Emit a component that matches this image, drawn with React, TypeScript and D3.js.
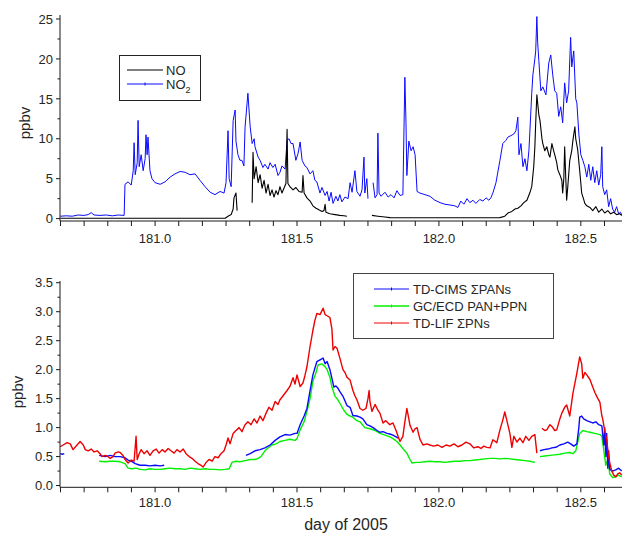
import React from 'react';
import * as d3 from 'd3';

type Pt = [number, number | null];

// ---- Top panel: NO and NO2 (ppbv) vs day of 2005 ----
const NO_SERIES: Pt[] = [
  [180.666, 0.05], [180.806, 0.05], [180.982, 0.05], [181.158, 0.05], [181.247, 0.05],
  [181.257, 0.3], [181.268, 0.5], [181.275, 1.2], [181.278, 2.6], [181.285, 3.2], [181.289, 1.0],
  [181.3, null],
  [181.342, 2], [181.345, 8.3], [181.349, 5], [181.356, 6.5], [181.363, 4.5], [181.370, 5.5],
  [181.377, 3.8], [181.384, 4.8], [181.391, 3.2], [181.398, 4.3], [181.405, 2.9], [181.412, 3.6],
  [181.419, 2.7], [181.426, 3.5], [181.433, 3.0], [181.440, 4.0], [181.447, 3.2], [181.454, 3.8],
  [181.461, 4.4], [181.465, 11.2], [181.468, 4.4], [181.475, 4.0], [181.486, 3.6], [181.496, 3.9],
  [181.507, 3.4], [181.518, 3.3], [181.521, 5.4], [181.525, 3.2], [181.535, 2.6], [181.546, 2.2],
  [181.556, 1.6], [181.567, 1.3], [181.577, 1.1], [181.588, 0.9], [181.595, 1.0], [181.599, 1.8],
  [181.602, 0.8], [181.616, 0.6], [181.634, 0.5], [181.651, 0.4], [181.665, 0.35], [181.676, 0.3],
  [181.72, null],
  [181.764, 0.4], [181.785, 0.3], [181.810, 0.2], [181.827, 0.12], [181.933, 0.1], [182.074, 0.1],
  [182.215, 0.12], [182.232, 0.3], [182.243, 0.7], [182.257, 0.9], [182.268, 1.2], [182.278, 1.3],
  [182.289, 1.6], [182.299, 2.0], [182.310, 2.3], [182.320, 3.2], [182.327, 4.0], [182.334, 6.5],
  [182.338, 9], [182.341, 12], [182.345, 15.5], [182.352, 13], [182.356, 12.3], [182.363, 10],
  [182.366, 9.4], [182.373, 8.5], [182.380, 9], [182.387, 8], [182.391, 7.7], [182.398, 9.4],
  [182.405, 8.4], [182.408, 8.0], [182.415, 7.0], [182.419, 6.1], [182.426, 5.5], [182.433, 4.8],
  [182.436, 3.2], [182.440, 5], [182.443, 9], [182.447, 5], [182.450, 2.3], [182.454, 4],
  [182.461, 7.3], [182.468, 8.5], [182.472, 9.8], [182.479, 11.5], [182.482, 10], [182.489, 8.6],
  [182.496, 6], [182.503, 3.2], [182.510, 2.4], [182.514, 1.9], [182.521, 1.6], [182.532, 1.4],
  [182.542, 1.0], [182.553, 1.5], [182.563, 0.8], [182.574, 1.2], [182.584, 0.7], [182.595, 1.0],
  [182.605, 0.6], [182.616, 0.8], [182.626, 0.5], [182.637, 0.6], [182.644, 0.4],
];

const NO2_SERIES: Pt[] = [
  [180.666, 0.3], [180.687, 0.35], [180.708, 0.3], [180.729, 0.45], [180.750, 0.4], [180.764, 0.5],
  [180.775, 0.75], [180.785, 0.45], [180.806, 0.4], [180.828, 0.45], [180.849, 0.35], [180.870, 0.45],
  [180.891, 0.4], [180.894, 4.3], [180.905, 4.6], [180.916, 4.2], [180.923, 6], [180.926, 9.5],
  [180.930, 5.5], [180.937, 7], [180.940, 12.3], [180.944, 6.5], [180.951, 8], [180.958, 6],
  [180.965, 7.5], [180.968, 10.5], [180.972, 8], [180.975, 10.2], [180.982, 6], [180.989, 5],
  [181.000, 4.5], [181.018, 4.3], [181.035, 4.6], [181.053, 5.2], [181.070, 5.6], [181.088, 5.9],
  [181.106, 5.8], [181.123, 5.5], [181.141, 5.6], [181.158, 4.8], [181.176, 4.0], [181.194, 3.3],
  [181.211, 3.0], [181.229, 3.4], [181.243, 3.2], [181.250, 4.5], [181.257, 11], [181.261, 5],
  [181.268, 4], [181.275, 12.3], [181.282, 13.6], [181.285, 9.7], [181.292, 8], [181.299, 7.3],
  [181.306, 7.3], [181.313, 6.6], [181.317, 11.5], [181.320, 12.7], [181.327, 15.7], [181.335, 11.5],
  [181.342, 9.4], [181.349, 10], [181.352, 9], [181.363, 7.7], [181.370, 7.3], [181.380, 6.4],
  [181.387, 6.8], [181.398, 6.2], [181.405, 7], [181.415, 6.4], [181.423, 6.8], [181.433, 5.4],
  [181.440, 5.8], [181.447, 6.6], [181.458, 6.2], [181.465, 9.8], [181.472, 10], [181.479, 9.4],
  [181.486, 9.4], [181.496, 7.3], [181.504, 8.2], [181.511, 9.6], [181.518, 7.3], [181.528, 6.6],
  [181.535, 6.4], [181.546, 5.6], [181.556, 6], [181.563, 4.8], [181.570, 4.6], [181.581, 3.2],
  [181.588, 3.9], [181.599, 2.9], [181.606, 3.4], [181.613, 2.2], [181.620, 3.3], [181.627, 1.9],
  [181.637, 2.8], [181.644, 2.2], [181.651, 3.0], [181.658, 2.1], [181.669, 2.7], [181.680, 2.5],
  [181.687, 4.5], [181.694, 3.3], [181.704, 6], [181.711, 3.4], [181.722, 2.8], [181.729, 3.6],
  [181.736, 7.7], [181.739, 3.2], [181.746, 5], [181.750, 2.5],
  [181.76, null],
  [181.768, 4.5], [181.775, 2.6], [181.782, 3.0], [181.785, 10.7], [181.789, 3.2], [181.796, 2.8],
  [181.810, 3.3], [181.821, 2.7], [181.831, 3.0], [181.842, 2.6], [181.852, 3.5], [181.863, 2.9],
  [181.873, 3.0], [181.880, 17.7], [181.884, 12], [181.887, 5.4], [181.894, 9.7], [181.902, 8.5],
  [181.909, 9.0], [181.916, 8.0], [181.923, 3.4], [181.933, 3.2], [181.951, 3.0], [181.968, 2.8],
  [181.986, 2.3], [182.004, 2.0], [182.021, 1.8], [182.039, 1.7], [182.056, 1.6], [182.067, 1.4],
  [182.077, 2.2], [182.088, 1.8], [182.099, 2.5], [182.109, 2.0], [182.120, 2.3], [182.130, 1.9],
  [182.144, 2.4], [182.155, 2.2], [182.166, 2.6], [182.176, 2.3], [182.183, 2.6], [182.190, 3.2],
  [182.201, 4.5], [182.215, 7.3], [182.225, 9.4], [182.236, 9.8], [182.243, 10.2], [182.254, 10.4],
  [182.264, 10.6], [182.271, 11], [182.278, 12.7], [182.282, 8], [182.289, 9.4], [182.296, 6.5],
  [182.303, 7.5], [182.310, 6.0], [182.317, 8.5], [182.320, 10.6], [182.327, 15.7], [182.331, 18],
  [182.338, 20], [182.341, 21], [182.345, 25.3], [182.348, 22], [182.352, 19.8], [182.359, 16],
  [182.366, 16.5], [182.377, 15.5], [182.387, 19.5], [182.394, 20.5], [182.401, 18], [182.408, 16],
  [182.415, 15.7], [182.422, 12.8], [182.429, 14], [182.436, 12], [182.443, 17], [182.450, 14.5],
  [182.457, 16], [182.464, 22.7], [182.468, 19], [182.475, 21], [182.482, 15], [182.486, 14.5],
  [182.493, 10.6], [182.500, 8], [182.507, 7.3], [182.514, 6.5], [182.521, 5.2], [182.528, 6.8],
  [182.535, 4.8], [182.542, 6.5], [182.549, 4.5], [182.556, 6], [182.563, 4.2], [182.570, 5.5],
  [182.574, 9], [182.577, 4.0], [182.584, 3.0], [182.591, 3.6], [182.598, 1.5], [182.605, 2.5],
  [182.612, 1.2], [182.619, 0.8], [182.626, 1.5], [182.633, 0.6], [182.640, 0.8], [182.644, 0.4],
];

// ---- Bottom panel: PAN measurements (ppbv) ----
const TDLIF_SERIES: Pt[] = [
  [180.666, 0.67], [180.676, 0.7], [180.690, 0.74], [180.701, 0.72], [180.711, 0.62], [180.725, 0.7],
  [180.736, 0.76], [180.747, 0.7], [180.754, 0.62], [180.764, 0.6], [180.775, 0.63], [180.785, 0.58],
  [180.796, 0.6], [180.806, 0.55], [180.813, 0.5], [180.824, 0.52], [180.831, 0.51], [180.842, 0.47],
  [180.852, 0.5], [180.859, 0.56], [180.870, 0.58], [180.877, 0.57], [180.887, 0.52], [180.894, 0.45],
  [180.905, 0.39], [180.916, 0.44], [180.926, 0.42], [180.933, 0.85], [180.937, 0.45], [180.944, 0.55],
  [180.951, 0.62], [180.961, 0.55], [180.972, 0.6], [180.982, 0.52], [180.993, 0.6], [181.004, 0.63],
  [181.014, 0.56], [181.025, 0.62], [181.035, 0.58], [181.046, 0.64], [181.056, 0.6], [181.067, 0.56],
  [181.077, 0.62], [181.088, 0.58], [181.099, 0.63], [181.109, 0.55], [181.120, 0.5], [181.130, 0.47],
  [181.141, 0.42], [181.151, 0.38], [181.162, 0.35], [181.169, 0.32], [181.180, 0.4], [181.190, 0.45],
  [181.201, 0.42], [181.211, 0.5], [181.222, 0.48], [181.232, 0.55], [181.243, 0.6], [181.250, 0.7],
  [181.257, 0.82], [181.264, 0.72], [181.275, 0.9], [181.285, 0.95], [181.296, 1.0], [181.306, 0.93],
  [181.317, 1.05], [181.327, 1.1], [181.338, 1.05], [181.349, 1.15], [181.359, 1.08], [181.370, 1.2],
  [181.380, 1.12], [181.391, 1.25], [181.401, 1.35], [181.412, 1.3], [181.423, 1.45], [181.433, 1.4],
  [181.440, 1.48], [181.451, 1.55], [181.465, 1.64], [181.475, 1.71], [181.486, 1.86], [181.493, 1.75],
  [181.500, 1.91], [181.511, 1.71], [181.521, 1.77], [181.528, 1.9], [181.535, 2.05], [181.546, 2.4],
  [181.556, 2.68], [181.563, 2.85], [181.570, 2.97], [181.581, 2.95], [181.592, 3.06], [181.599, 2.95],
  [181.606, 2.93], [181.616, 2.9], [181.623, 2.7], [181.627, 2.34], [181.634, 2.4], [181.641, 2.37],
  [181.651, 2.2], [181.662, 2.0], [181.669, 1.95], [181.676, 1.87], [181.687, 1.82], [181.697, 1.64],
  [181.704, 1.55], [181.711, 1.48], [181.722, 1.33], [181.732, 1.3], [181.743, 1.33], [181.750, 1.5],
  [181.754, 1.64], [181.757, 1.45], [181.764, 1.28], [181.775, 1.4], [181.785, 1.3], [181.792, 1.25],
  [181.803, 1.08], [181.813, 1.12], [181.827, 1.05], [181.838, 1.08], [181.849, 0.95], [181.856, 0.85],
  [181.863, 0.76], [181.873, 0.85], [181.880, 1.1], [181.887, 1.33], [181.894, 1.15], [181.898, 1.04],
  [181.909, 0.92], [181.916, 0.98], [181.923, 1.0], [181.933, 0.8], [181.944, 0.7], [181.958, 0.72],
  [181.968, 0.7], [181.982, 0.68], [181.996, 0.7], [182.011, 0.66], [182.025, 0.7], [182.039, 0.68],
  [182.053, 0.72], [182.067, 0.67], [182.081, 0.7], [182.095, 0.75], [182.109, 0.72], [182.123, 0.65],
  [182.137, 0.67], [182.148, 0.64], [182.158, 0.68], [182.169, 0.66], [182.180, 0.65], [182.190, 0.79],
  [182.204, 0.74], [182.215, 0.96], [182.225, 1.13], [182.232, 1.27], [182.239, 1.13], [182.250, 0.9],
  [182.257, 0.66], [182.264, 0.85], [182.275, 0.75], [182.285, 0.82], [182.296, 0.74], [182.306, 0.85],
  [182.317, 0.78], [182.327, 0.85], [182.338, 0.88], [182.345, 0.56],
  [182.35, null],
  [182.363, 0.99], [182.373, 0.95], [182.380, 0.96], [182.391, 1.05], [182.398, 1.02], [182.408, 0.95],
  [182.415, 0.96], [182.426, 1.15], [182.433, 1.25], [182.443, 1.35], [182.450, 1.39], [182.461, 1.2],
  [182.472, 1.59], [182.486, 1.94], [182.496, 2.22], [182.503, 2.1], [182.507, 1.85], [182.514, 1.95],
  [182.521, 1.91], [182.532, 1.83], [182.542, 1.7], [182.549, 1.61], [182.560, 1.5], [182.567, 1.44],
  [182.574, 1.2], [182.577, 1.15], [182.584, 0.95], [182.591, 0.79], [182.598, 0.5], [182.602, 0.39],
  [182.609, 0.25], [182.616, 0.18], [182.623, 0.15], [182.630, 0.2], [182.637, 0.22], [182.644, 0.18],
];

const TDCIMS_SERIES: Pt[] = [
  [180.666, 0.55], [180.673, 0.54], [180.680, 0.55],
  [180.75, null],
  [180.803, 0.52], [180.824, 0.5], [180.842, 0.52], [180.859, 0.5], [180.877, 0.5], [180.894, 0.48],
  [180.905, 0.44], [180.916, 0.42], [180.930, 0.38], [180.947, 0.35], [180.965, 0.35], [180.982, 0.34],
  [181.000, 0.35], [181.018, 0.34], [181.032, 0.35],
  [181.2, null],
  [181.320, 0.52], [181.335, 0.55], [181.352, 0.6], [181.370, 0.62], [181.387, 0.65], [181.405, 0.7],
  [181.423, 0.78], [181.440, 0.84], [181.458, 0.88], [181.475, 0.87], [181.493, 0.9], [181.500, 0.9],
  [181.511, 1.05], [181.525, 1.2], [181.535, 1.33], [181.546, 1.64], [181.556, 1.91], [181.570, 2.14],
  [181.581, 2.17], [181.592, 2.2], [181.599, 2.1], [181.606, 2.14], [181.616, 2.0], [181.623, 1.85],
  [181.630, 1.7], [181.637, 1.72], [181.644, 1.68], [181.651, 1.62], [181.662, 1.54], [181.676, 1.38],
  [181.687, 1.35], [181.697, 1.21], [181.711, 1.2], [181.722, 1.18], [181.732, 1.15], [181.746, 1.05],
  [181.757, 1.03], [181.768, 1.0], [181.782, 0.95], [181.792, 0.92], [181.803, 0.93], [181.817, 0.9],
  [181.827, 0.89], [181.838, 0.87], [181.849, 0.84], [181.856, 0.82],
  [182.1, null],
  [182.356, 0.6], [182.370, 0.62], [182.384, 0.63], [182.398, 0.65], [182.412, 0.66], [182.426, 0.7],
  [182.440, 0.72], [182.454, 0.75], [182.464, 0.72], [182.475, 0.68], [182.486, 0.72], [182.493, 1.0],
  [182.496, 1.18], [182.503, 1.2], [182.510, 1.15], [182.521, 1.12], [182.532, 1.1], [182.542, 1.08],
  [182.553, 1.1], [182.563, 1.05], [182.574, 1.03], [182.581, 0.7], [182.584, 1.0], [182.588, 0.5],
  [182.591, 0.9], [182.595, 0.3], [182.598, 0.6], [182.602, 0.28], [182.612, 0.25], [182.623, 0.27],
  [182.633, 0.3], [182.644, 0.25],
];

const GCECD_SERIES: Pt[] = [
  [180.803, 0.42], [180.824, 0.41], [180.842, 0.42], [180.859, 0.42], [180.877, 0.41], [180.894, 0.38],
  [180.905, 0.3], [180.919, 0.29], [180.933, 0.3], [180.947, 0.28], [180.965, 0.27], [180.982, 0.29],
  [181.000, 0.28], [181.018, 0.28], [181.035, 0.29], [181.053, 0.3], [181.070, 0.29], [181.088, 0.29],
  [181.106, 0.28], [181.123, 0.3], [181.141, 0.29], [181.158, 0.28], [181.176, 0.29], [181.194, 0.28],
  [181.211, 0.28], [181.229, 0.27], [181.247, 0.28], [181.261, 0.29], [181.271, 0.4], [181.285, 0.42],
  [181.299, 0.41], [181.317, 0.43], [181.335, 0.45], [181.352, 0.45], [181.363, 0.47], [181.373, 0.5],
  [181.387, 0.6], [181.398, 0.65], [181.412, 0.7], [181.426, 0.72], [181.440, 0.76], [181.458, 0.78],
  [181.475, 0.8], [181.493, 0.78], [181.500, 0.81], [181.511, 0.96], [181.525, 1.1], [181.535, 1.28],
  [181.546, 1.5], [181.556, 1.8], [181.567, 1.95], [181.574, 2.08], [181.588, 2.1], [181.599, 2.05],
  [181.606, 2.0], [181.616, 1.87], [181.623, 1.7], [181.634, 1.54], [181.644, 1.48], [181.651, 1.42],
  [181.665, 1.3], [181.676, 1.23], [181.687, 1.2], [181.697, 1.18], [181.711, 1.12], [181.722, 1.1],
  [181.739, 1.0], [181.757, 0.98], [181.775, 0.95], [181.792, 0.9], [181.810, 0.87], [181.827, 0.84],
  [181.838, 0.81], [181.852, 0.76], [181.863, 0.7], [181.873, 0.64], [181.887, 0.56], [181.898, 0.45],
  [181.905, 0.39], [181.919, 0.4], [181.933, 0.4], [181.951, 0.41], [181.968, 0.42], [181.986, 0.41],
  [182.004, 0.41], [182.021, 0.4], [182.039, 0.41], [182.056, 0.42], [182.074, 0.42], [182.092, 0.43],
  [182.109, 0.43], [182.127, 0.44], [182.144, 0.45], [182.162, 0.46], [182.180, 0.47], [182.197, 0.47],
  [182.215, 0.46], [182.232, 0.47], [182.250, 0.46], [182.268, 0.45], [182.285, 0.44], [182.303, 0.43],
  [182.320, 0.42], [182.338, 0.4],
  [182.347, null],
  [182.356, 0.5], [182.373, 0.51], [182.391, 0.52], [182.408, 0.53], [182.426, 0.54], [182.443, 0.56],
  [182.461, 0.57], [182.472, 0.55], [182.482, 0.6], [182.489, 0.75], [182.496, 0.9], [182.507, 0.95],
  [182.521, 0.93], [182.532, 0.92], [182.549, 0.9], [182.567, 0.88], [182.574, 0.85], [182.581, 0.6],
  [182.588, 0.35], [182.595, 0.45], [182.602, 0.2], [182.612, 0.14], [182.623, 0.15], [182.633, 0.18],
  [182.644, 0.15],
];

const X_DOMAIN: [number, number] = [180.665, 182.645];
const X_LABEL_TICKS = [181.0, 181.5, 182.0, 182.5];
const X_LABELS = ['181.0', '181.5', '182.0', '182.5'];
const TOP_Y_TICKS = [0, 5, 10, 15, 20, 25];
const TOP_Y_LABELS = ['0', '5', '10', '15', '20', '25'];
const BOT_Y_TICKS = [0, 0.5, 1.0, 1.5, 2.0, 2.5, 3.0, 3.5];
const BOT_Y_LABELS = ['0.0', '0.5', '1.0', '1.5', '2.0', '2.5', '3.0', '3.5'];
const TOP_LEGEND = ['NO', 'NO'];
const BOT_LEGEND = ['TD-CIMS \u03A3PANs', 'GC/ECD PAN+PPN', 'TD-LIF \u03A3PNs'];

const FONT = '"Liberation Sans", Arial, Helvetica, sans-serif';
const TXT = '#262626';
const AX = '#1a1a1a';

const x = d3.scaleLinear().domain(X_DOMAIN).range([60, 622]);
const yTop = d3.scaleLinear().domain([-0.3, 25.5]).range([221, 15]);
const yBot = d3.scaleLinear().domain([-0.03, 3.53]).range([487.3, 281]);

function linePath(data: Pt[], y: d3.ScaleLinear<number, number>) {
  return d3
    .line<Pt>()
    .defined((d) => d[1] != null)
    .x((d) => x(d[0]))
    .y((d) => y(d[1] as number))(data) || '';
}

const xMinorTicks: number[] = (() => {
  const out: number[] = [];
  const k0 = Math.ceil(X_DOMAIN[0] * 12);
  const k1 = Math.floor(X_DOMAIN[1] * 12);
  for (let k = k0; k <= k1; k++) out.push(k / 12);
  return out;
})();

function XAxis({ y0, labelY }: { y0: number; labelY: number }) {
  return (
    <g>
      <line x1={60} x2={622} y1={y0} y2={y0} stroke={AX} strokeWidth={1} />
      {xMinorTicks.map((t, i) => (
        <line key={i} x1={x(t)} x2={x(t)} y1={y0} y2={y0 + 5} stroke={AX} strokeWidth={1} />
      ))}
      {X_LABEL_TICKS.map((t, i) => (
        <text key={i} x={x(t)} y={labelY} textAnchor="middle" fontSize={13} fill={TXT} fontFamily={FONT}>
          {X_LABELS[i]}
        </text>
      ))}
    </g>
  );
}

function YAxis({ y, ticks, labels, step, yTopPx, yBotPx }: {
  y: d3.ScaleLinear<number, number>; ticks: number[]; labels: string[]; step: number; yTopPx: number; yBotPx: number;
}) {
  const minors = ticks.slice(0, -1).map((t) => t + step / 2);
  return (
    <g>
      <line x1={60} x2={60} y1={yTopPx} y2={yBotPx} stroke={AX} strokeWidth={1} />
      {ticks.map((t, i) => (
        <line key={'M' + i} x1={56} x2={60} y1={y(t)} y2={y(t)} stroke={AX} strokeWidth={1} />
      ))}
      {minors.map((t, i) => (
        <line key={'m' + i} x1={57.5} x2={60} y1={y(t)} y2={y(t)} stroke={AX} strokeWidth={1} />
      ))}
      {ticks.map((t, i) => (
        <text key={'L' + i} x={53} y={y(t)} dy="0.36em" textAnchor="end" fontSize={13} fill={TXT} fontFamily={FONT}>
          {labels[i]}
        </text>
      ))}
    </g>
  );
}

export default function App() {
  const cBlue = '#0a0aff';
  const cGreen = '#00f000';
  const cRed = '#ee0000';
  return (
    <svg
      width={624}
      height={536}
      viewBox="0 0 624 536"
      style={{ position: 'absolute', left: 0, top: 0, background: '#fff' }}
    >
      <rect x={0} y={0} width={624} height={536} fill="#fff" />

      {/* ---------- Top panel ---------- */}
      <path d={linePath(NO2_SERIES, yTop)} fill="none" stroke={cBlue} strokeWidth={1} strokeLinejoin="round" />
      <path d={linePath(NO_SERIES, yTop)} fill="none" stroke="#000" strokeWidth={1.1} strokeLinejoin="round" />
      <YAxis y={yTop} ticks={TOP_Y_TICKS} labels={TOP_Y_LABELS} step={5} yTopPx={15} yBotPx={221} />
      <XAxis y0={221} labelY={242.5} />
      <text transform="translate(25,123) rotate(-90)" dy="0.35em" textAnchor="middle" fontSize={15} fill={TXT} fontFamily={FONT}>
        ppbv
      </text>

      {/* top legend */}
      <rect x={119.5} y={55.5} width={81} height={45} fill="#fff" stroke="#222" strokeWidth={1} />
      <line x1={127} x2={163} y1={70} y2={70} stroke="#000" strokeWidth={1.2} />
      <text x={166} y={70} dy="0.36em" fontSize={13} fill={TXT} fontFamily={FONT}>{TOP_LEGEND[0]}</text>
      <line x1={127} x2={163} y1={84} y2={84} stroke={cBlue} strokeWidth={1} />
      <line x1={145} x2={145} y1={82.5} y2={85.5} stroke={cBlue} strokeWidth={1} />
      <text x={166} y={84} dy="0.36em" fontSize={13} fill={TXT} fontFamily={FONT}>
        {TOP_LEGEND[1]}
        <tspan fontSize={9} dy="4">2</tspan>
      </text>

      {/* ---------- Bottom panel ---------- */}
      <path d={linePath(GCECD_SERIES, yBot)} fill="none" stroke={cGreen} strokeWidth={1.4} strokeLinejoin="round" />
      <path d={linePath(TDCIMS_SERIES, yBot)} fill="none" stroke={cBlue} strokeWidth={1.4} strokeLinejoin="round" />
      <path d={linePath(TDLIF_SERIES, yBot)} fill="none" stroke={cRed} strokeWidth={1.4} strokeLinejoin="round" />
      <YAxis y={yBot} ticks={BOT_Y_TICKS} labels={BOT_Y_LABELS} step={0.5} yTopPx={281} yBotPx={487.3} />
      <XAxis y0={487.3} labelY={507} />
      <text transform="translate(18,392) rotate(-90)" dy="0.35em" textAnchor="middle" fontSize={15} fill={TXT} fontFamily={FONT}>
        ppbv
      </text>
      <text x={346} y={530} textAnchor="middle" fontSize={16} fill={TXT} fontFamily={FONT}>
        day of 2005
      </text>

      {/* bottom legend */}
      <rect x={353.5} y={273.5} width={200} height={65} fill="#fff" stroke="#444" strokeWidth={1} />
      {[cBlue, cGreen, cRed].map((c, i) => {
        const yy = 289 + i * 17;
        return (
          <g key={i}>
            <line x1={374} x2={409} y1={yy} y2={yy} stroke={c} strokeWidth={i === 1 ? 1.6 : 1} />
            <line x1={391.5} x2={391.5} y1={yy - 1.5} y2={yy + 1.5} stroke={c} strokeWidth={1} />
            <text x={413} y={yy} dy="0.36em" fontSize={13} fill={TXT} fontFamily={FONT}>
              {BOT_LEGEND[i]}
            </text>
          </g>
        );
      })}
    </svg>
  );
}
